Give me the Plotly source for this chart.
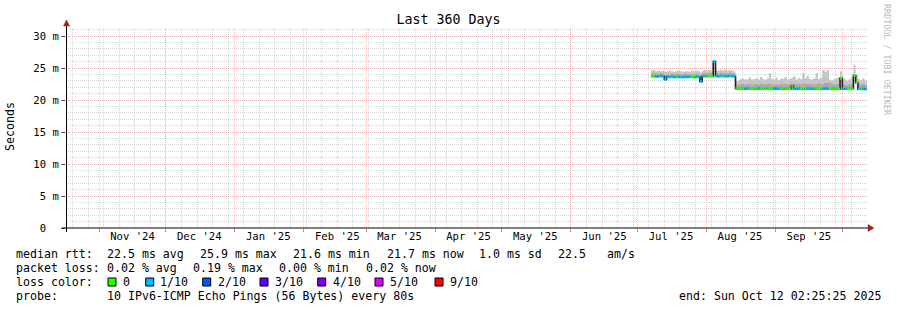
import pandas as pd
import plotly.graph_objects as go

# ---------------- data ----------------
TITLE = "Last 360 Days"
RANGE_START = "2024-10-17 02:25:25"
RANGE_END = "2025-10-12 02:25:25"
DATA_START = "2025-07-07"

# daily median RTT (ms), Jul 7 .. Oct 11 2025
median_ms = [
    23.70, 23.72, 23.68, 23.70, 23.74, 23.70,
    23.20,
    23.62, 23.60, 23.64, 23.58, 23.60, 23.62, 23.60, 23.58, 23.62, 23.60, 23.64, 23.60, 23.58, 23.62, 23.60,
    22.90,
    23.72, 23.74, 23.70, 23.76, 23.72,
    26.00,
    23.74, 23.70, 23.76, 23.72, 23.74, 23.70, 23.76, 23.72, 23.70,
    21.80, 21.78, 21.76, 21.80, 21.74, 21.78, 21.76, 21.80, 21.74, 21.76, 21.78, 21.74, 21.76,
    21.80, 21.78, 21.74, 21.76, 21.78, 21.74, 21.76, 21.80, 21.74, 21.76, 21.78, 21.76,
    22.20,
    21.76, 21.74, 21.78, 21.76, 21.74, 21.76, 21.78, 21.74, 21.76, 21.74, 21.78, 21.76, 21.74,
    21.76, 21.78, 21.74, 21.76, 21.74, 21.78, 21.76, 21.74,
    23.40,
    21.74, 21.76, 21.74, 21.78, 21.76,
    23.80,
    22.70,
    21.74, 21.72, 21.76, 21.70,
]

# lost pings (out of 10) per day
loss = [
    0, 0, 1, 1, 1, 1, 1, 1, 1, 1, 1, 0, 1, 1, 1, 1, 1, 1, 0, 0,
    1, 1, 1, 1, 0, 0, 0, 0, 1, 1, 1, 1, 0, 1, 1, 1, 1, 1,
    0, 0, 0, 0, 1, 1, 0, 0, 0, 0, 1, 0, 0, 0, 0, 0, 0, 1, 1, 1,
    0, 0, 0, 0, 0, 0, 1, 1, 1, 0, 0, 0, 1, 1, 1, 0, 0, 0, 0, 1,
    1, 1, 0, 0, 0, 0, 0, 0, 1, 1, 0, 0, 0, 0, 0, 1, 0, 1, 1,
]

# upper edge of the smoke (ms)
smoke_hi = [
    24.6, 24.7, 24.5, 24.6, 24.5, 24.6, 24.4, 24.5, 24.6, 24.5,
    24.4, 24.5, 24.6, 24.5, 24.4, 24.5, 24.5, 24.4, 24.6, 24.5,
    24.6, 24.5, 24.3, 24.6, 24.7, 24.6, 24.7, 24.5, 26.1, 24.7,
    24.6, 24.7, 24.6, 24.8, 24.6, 24.7, 24.6, 24.5,
    22.9, 23.1, 23.3, 23.4, 23.2, 23.3, 23.5, 23.2, 23.3, 23.4,
    23.2, 23.6, 23.3, 23.1, 23.4, 24.2, 23.3, 23.2, 23.5, 23.1,
    23.4, 23.3, 23.6, 23.2, 23.3, 23.5, 23.7, 23.2, 23.4, 23.3,
    24.2, 23.4, 23.8, 23.3, 23.2, 23.4, 24.2, 23.3, 23.5, 24.7,
    24.4, 24.7, 23.2, 23.0, 23.3, 23.4, 23.5, 24.5, 23.4, 23.2,
    23.0, 23.3, 23.6, 25.5, 24.0, 23.3, 23.1, 23.4, 23.0,
]

# upper edge of the denser (darker) smoke band (ms)
smoke_mid = [
    24.15, 24.20, 24.10, 24.15, 24.20, 24.15,
    23.90,
    24.05, 24.00, 24.10, 24.00, 24.05, 24.05, 24.00, 24.00, 24.10, 24.05, 24.05, 24.00, 24.00, 24.05, 24.00,
    23.80,
    24.20, 24.20, 24.15, 24.25, 24.20,
    26.00,
    24.20, 24.15, 24.25, 24.20, 24.20, 24.15, 24.25, 24.20, 24.15,
    22.30, 22.40, 22.50, 22.45, 22.40, 22.50, 22.55, 22.40, 22.45, 22.50, 22.40, 22.55, 22.45,
    22.40, 22.50, 22.60, 22.45, 22.40, 22.50, 22.40, 22.55, 22.45, 22.50, 22.40, 22.45,
    22.60,
    22.55, 22.45, 22.50, 22.40, 22.60, 22.50, 22.55, 22.45, 22.50, 22.40, 22.55, 22.60, 22.45,
    22.50, 22.70, 22.65, 22.70, 22.45, 22.40, 22.50, 22.45,
    23.50,
    22.50, 22.40, 22.35, 22.45, 22.55,
    24.00,
    23.00,
    22.45, 22.40, 22.50, 22.35,
]

month_starts = ["2024-11-01", "2024-12-01", "2025-01-01", "2025-02-01", "2025-03-01",
                "2025-04-01", "2025-05-01", "2025-06-01", "2025-07-01", "2025-08-01",
                "2025-09-01", "2025-10-01"]
month_label_pos = ["2024-11-16", "2024-12-16", "2025-01-16", "2025-02-16", "2025-03-16",
                   "2025-04-16", "2025-05-16", "2025-06-16", "2025-07-16", "2025-08-16",
                   "2025-09-16"]
month_labels = ["Nov '24", "Dec '24", "Jan '25", "Feb '25", "Mar '25", "Apr '25",
                "May '25", "Jun '25", "Jul '25", "Aug '25", "Sep '25"]
WEEK_TICK0 = "2024-10-20"

y_ticks = [0, 5, 10, 15, 20, 25, 30]
y_ticklabels = ["0\u00a0\u00a0", "5 m", "10 m", "15 m", "20 m", "25 m", "30 m"]

loss_colors = ["#26ff00", "#00b8ff", "#0059ff", "#5e00ff", "#7e00ff", "#dd00ff", "#ff0000"]
loss_labels = ["0", "1/10", "2/10", "3/10", "4/10", "5/10", "9/10"]

median_stats = ["22.5 ms avg", "25.9 ms max", "21.6 ms min", "21.7 ms now", "1.0 ms sd", "22.5", "am/s"]
loss_stats = ["0.02 % avg", "0.19 % max", "0.00 % min", "0.02 % now"]
probe_text = "10 IPv6-ICMP Echo Pings (56 Bytes) every 80s"
end_text = "end: Sun Oct 12 02:25:25 2025"
watermark = "RRDTOOL / TOBI OETIKER"

# ---------------- geometry / style ----------------
W, H = 897, 310
ML, MR, MT, MB = 66, 30, 28, 82
PW, PH = W - ML - MR, H - MT - MB
MONO = "DejaVu Sans Mono"
FS = 11.6
AXFS = 10.6
SMOKE_LIGHT = "#c6c6c6"
SMOKE_DARK = "#aaaaaa"
MAJOR_GRID = "rgba(240,130,130,0.45)"
MINOR_GRID = "rgba(160,160,160,0.42)"
ARROW = "#a02020"


def px_x(p):
    return (p - ML) / PW


def px_y(p):
    return (H - MB - p) / PH


days = pd.date_range(DATA_START, periods=len(median_ms), freq="D")
x_step = list(days) + [days[-1] + pd.Timedelta(days=1)]


def ext(v):
    return list(v) + [v[-1]]


fig = go.Figure()
common = dict(mode="lines", hoverinfo="skip", showlegend=False)
fig.add_trace(go.Scatter(x=x_step, y=ext(median_ms), line=dict(width=0, shape="hv"), **common))
fig.add_trace(go.Scatter(x=x_step, y=ext(smoke_hi), line=dict(width=0, shape="hv"),
                         fill="tonexty", fillcolor=SMOKE_LIGHT, **common))
fig.add_trace(go.Scatter(x=x_step, y=ext(median_ms), line=dict(width=0, shape="hv"), **common))
fig.add_trace(go.Scatter(x=x_step, y=ext(smoke_mid), line=dict(width=0, shape="hv"),
                         fill="tonexty", fillcolor=SMOKE_DARK, **common))
fig.add_trace(go.Scatter(x=x_step, y=ext(median_ms), line=dict(width=1.6, shape="hv", color="#202020"), **common))

for level in sorted(set(loss)):
    xs, ys = [], []
    for d, m, l in zip(days, median_ms, loss):
        if l == level:
            xs += [d, d + pd.Timedelta(days=1), None]
            ys += [m, m, None]
    fig.add_trace(go.Scatter(x=xs, y=ys, line=dict(width=2.8, color=loss_colors[level]), **common))

# dummy trace for month-label axis
fig.add_trace(go.Scatter(x=month_label_pos, y=[None] * len(month_label_pos), xaxis="x2",
                         mode="markers", showlegend=False, hoverinfo="skip"))

fig.update_layout(
    width=W, height=H, autosize=False,
    margin=dict(l=ML, r=MR, t=MT, b=MB, pad=0),
    paper_bgcolor="white", plot_bgcolor="white",
    font=dict(family=MONO, size=FS, color="black"),
    title=dict(text=TITLE, x=0.5, xanchor="center", y=1 - 19 / H, yanchor="middle",
               font=dict(family=MONO, size=13.3, color="black")),
    xaxis=dict(
        type="date", range=[RANGE_START, RANGE_END], tickmode="array", tickvals=month_starts,
        showticklabels=False, ticks="outside", ticklen=3, tickcolor="rgba(220,90,90,0.8)",
        showgrid=True, gridcolor=MAJOR_GRID, griddash="1px,1px", gridwidth=1,
        minor=dict(tick0=WEEK_TICK0, dtick=7 * 86400000, showgrid=True, gridcolor=MINOR_GRID,
                   griddash="1px,1px", gridwidth=1, ticks=""),
        zeroline=False, showline=False, fixedrange=True,
    ),
    xaxis2=dict(
        type="date", range=[RANGE_START, RANGE_END], overlaying="x", anchor="y", side="bottom",
        tickmode="array", tickvals=month_label_pos, ticktext=month_labels, showgrid=False,
        ticks="", zeroline=False, showline=False, fixedrange=True,
        tickfont=dict(family=MONO, size=AXFS, color="black"),
    ),
    yaxis=dict(
        range=[0, 31.25], tickmode="array", tickvals=y_ticks, ticktext=y_ticklabels,
        ticks="outside", ticklen=4, tickcolor="#555555",
        showgrid=True, gridcolor=MAJOR_GRID, griddash="1px,1px", gridwidth=1,
        minor=dict(dtick=1, showgrid=True, gridcolor=MINOR_GRID, griddash="1px,1px",
                   gridwidth=1, ticks=""),
        zeroline=False, showline=False, fixedrange=True,
        tickfont=dict(family=MONO, size=AXFS, color="black"),
    ),
)

shapes = []
# axes lines with arrows
shapes.append(dict(type="line", xref="paper", yref="paper", x0=px_x(62), x1=px_x(869),
                   y0=px_y(228), y1=px_y(228), line=dict(color="black", width=1)))
shapes.append(dict(type="line", xref="paper", yref="paper", x0=px_x(66.5), x1=px_x(66.5),
                   y0=px_y(232), y1=px_y(25), line=dict(color="black", width=1)))
shapes.append(dict(type="path", xref="paper", yref="paper",
                   path=f"M {px_x(868)} {px_y(224.5)} L {px_x(874)} {px_y(228)} L {px_x(868)} {px_y(231.5)} Z",
                   fillcolor=ARROW, line=dict(color=ARROW, width=0.5)))
shapes.append(dict(type="path", xref="paper", yref="paper",
                   path=f"M {px_x(63.5)} {px_y(26)} L {px_x(66.5)} {px_y(20)} L {px_x(69.5)} {px_y(26)} Z",
                   fillcolor=ARROW, line=dict(color=ARROW, width=0.5)))

annotations = []


def txt(text, px, py, anchor="left", size=FS, color="black", angle=0):
    annotations.append(dict(text=text.replace(" ", "\u00a0"), x=px_x(px), y=px_y(py),
                            xref="paper", yref="paper", xanchor=anchor, yanchor="middle",
                            showarrow=False, borderpad=0, borderwidth=0, textangle=angle,
                            font=dict(family=MONO, size=size, color=color)))


# legend line 1
txt("median rtt:", 16, 254)
for s, p in zip(median_stats, [107.3, 200, 293.3, 386.7, 479.3, 558.3, 607.3]):
    txt(s, p, 254)
# legend line 2
txt("packet loss:", 16, 268)
for s, p in zip(loss_stats, [107.3, 193.3, 279.3, 365.7]):
    txt(s, p, 268)
# legend line 3
txt("loss color:", 16, 282)
sq_x = [108, 145.7, 202.7, 260, 317.7, 375, 435]
lab_x = [123, 160, 217.7, 275, 333, 390, 450]
for c, lab, sx, lx in zip(loss_colors, loss_labels, sq_x, lab_x):
    shapes.append(dict(type="rect", xref="paper", yref="paper", x0=px_x(sx), x1=px_x(sx + 8),
                       y0=px_y(286), y1=px_y(278), fillcolor=c, line=dict(color="black", width=1)))
    txt(lab, lx, 282)
# legend line 4
txt("probe:", 16, 296)
txt(probe_text, 107.3, 296)
txt(end_text, 880.5, 296, anchor="right")
# y axis title
txt("Seconds", 10, 127, anchor="center", angle=-90)
# watermark
txt(watermark, 887, 60, anchor="center", size=8.4, color="#bbbbbb", angle=90)

fig.update_layout(shapes=shapes, annotations=annotations)
fig.write_html("out.html")
